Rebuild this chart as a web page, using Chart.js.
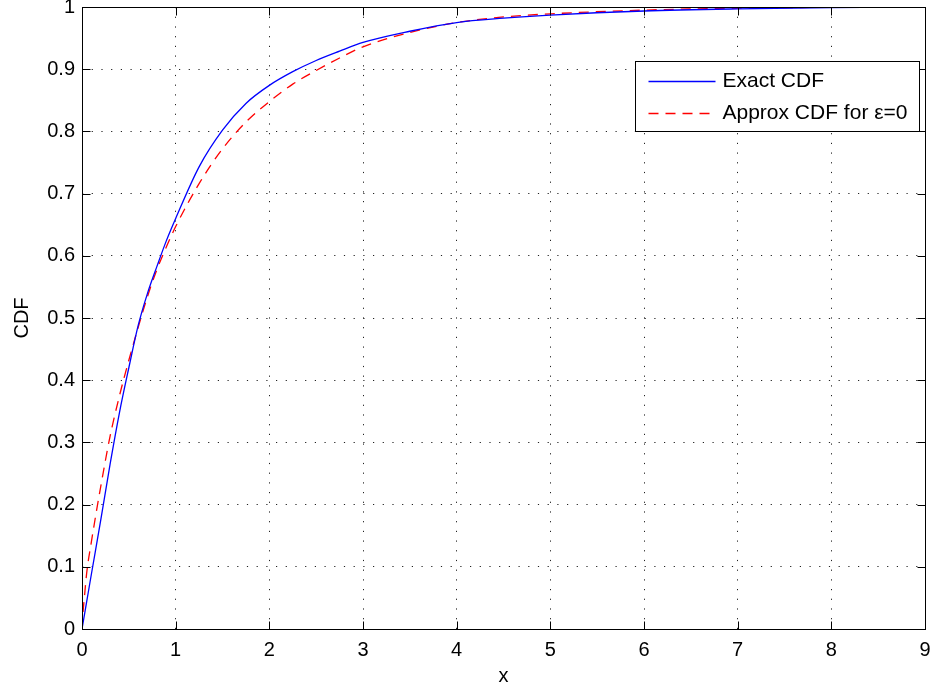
<!DOCTYPE html>
<html>
<head>
<meta charset="utf-8">
<script src="https://cdn.jsdelivr.net/npm/chart.js@4"></script>
<style>
  html, body { margin: 0; padding: 0; background: #fff; }
</style>
</head>
<body>
<canvas id="cdfChart" width="934" height="690"></canvas>
<script>
// exact CDF
var exactX   = [0, 0.05, 0.1, 0.2, 0.3, 0.4, 0.5, 0.6, 0.7, 0.8, 0.9, 1.0, 1.25, 1.5, 1.75, 2.0, 2.25, 2.5, 2.75, 3.0, 3.5, 4.0, 4.5, 5.0, 6.0, 7.0, 8.0, 9.0];
var exactCdf = [0, 0.044, 0.088, 0.175, 0.265, 0.348, 0.42, 0.488, 0.54, 0.583, 0.624, 0.66, 0.743, 0.802, 0.845, 0.874, 0.896, 0.914, 0.929, 0.943, 0.961, 0.975, 0.982, 0.987, 0.9936, 0.997, 0.999, 1.0];

// approximation with epsilon = 0
var approxX   = [0, 0.01, 0.025, 0.05, 0.1, 0.2, 0.3, 0.4, 0.5, 0.6, 0.7, 0.8, 0.9, 1.0, 1.25, 1.5, 1.75, 2.0, 2.25, 2.5, 2.75, 3.0, 3.5, 4.0, 4.5, 5.0, 6.0, 7.0, 8.0, 9.0];
var approxCdf = [0, 0.025, 0.05, 0.09, 0.14, 0.229, 0.31, 0.375, 0.432, 0.485, 0.535, 0.578, 0.614, 0.647, 0.716, 0.772, 0.815, 0.848, 0.876, 0.898, 0.918, 0.936, 0.959, 0.975, 0.984, 0.989, 0.995, 0.998, 0.9995, 1.0];

var xTickLabels = ['0', '1', '2', '3', '4', '5', '6', '7', '8', '9'];
var yTickLabels = ['0', '0.1', '0.2', '0.3', '0.4', '0.5', '0.6', '0.7', '0.8', '0.9', '1'];

var FONT = '"Liberation Sans", Arial, Helvetica, sans-serif';

function toPoints(xs, ys) {
    return xs.map(function(x, i) { return { x: x, y: ys[i] }; });
}

// box around the axes, inward tick marks and the boxed legend
var axesBox = {
    id: 'axesBox',
    afterDatasetsDraw: function(chart) {
        var ctx = chart.ctx, a = chart.chartArea;
        var xs = chart.scales.x, ys = chart.scales.y;
        var L = Math.round(a.left) + 0.5, R = Math.round(a.right) + 0.5;
        var T = Math.round(a.top) + 0.5, B = Math.round(a.bottom) + 0.5;
        var tick = 8;
        ctx.save();
        ctx.strokeStyle = '#000';
        ctx.lineWidth = 1;
        ctx.setLineDash([]);
        ctx.beginPath();
        xs.ticks.forEach(function(t) {
            var px = Math.round(xs.getPixelForValue(t.value)) + 0.5;
            ctx.moveTo(px, B); ctx.lineTo(px, B - tick);
            ctx.moveTo(px, T); ctx.lineTo(px, T + tick);
        });
        ys.ticks.forEach(function(t) {
            var py = Math.round(ys.getPixelForValue(t.value)) + 0.5;
            ctx.moveTo(L, py); ctx.lineTo(L + tick, py);
            ctx.moveTo(R, py); ctx.lineTo(R - tick, py);
        });
        ctx.stroke();
        ctx.strokeRect(L, T, R - L, B - T);

        // legend
        var w = 284, h = 70;
        var bx = R - 6 - w, by = T + 54;
        ctx.fillStyle = '#fff';
        ctx.fillRect(bx, by, w, h);
        ctx.strokeRect(bx, by, w, h);
        ctx.font = '21px ' + FONT;
        ctx.textBaseline = 'middle';
        ctx.textAlign = 'left';
        chart.data.datasets.forEach(function(ds, i) {
            var ry = Math.round(by + 19 + i * 32) + 0.5;
            ctx.strokeStyle = ds.borderColor;
            ctx.lineWidth = ds.borderWidth;
            ctx.setLineDash(ds.borderDash || []);
            ctx.beginPath();
            ctx.moveTo(bx + 13, ry);
            ctx.lineTo(bx + 80, ry);
            ctx.stroke();
            ctx.fillStyle = '#000';
            ctx.fillText(ds.label, bx + 87, ry);
        });
        ctx.restore();
    }
};

var ctx = document.getElementById('cdfChart').getContext('2d');
var cdfChart = new Chart(ctx, {
    type: 'line',
    data: {
        datasets: [{
            label: 'Exact CDF',
            data: toPoints(exactX, exactCdf),
            borderColor: '#0000ff',
            borderWidth: 1.3,
            pointRadius: 0,
            fill: false,
            cubicInterpolationMode: 'monotone'
        }, {
            label: 'Approx CDF for \u03b5=0',
            data: toPoints(approxX, approxCdf),
            borderColor: '#ff0000',
            borderWidth: 1.3,
            borderDash: [10, 7],
            pointRadius: 0,
            fill: false,
            cubicInterpolationMode: 'monotone'
        }]
    },
    options: {
        responsive: false,
        animation: false,
        devicePixelRatio: 1,
        layout: { padding: { top: 7, right: 9, left: 0, bottom: 0 } },
        plugins: {
            legend: { display: false },
            tooltip: { enabled: false }
        },
        scales: {
            x: {
                type: 'linear',
                min: 0,
                max: 9,
                ticks: {
                    stepSize: 1,
                    padding: 9,
                    color: '#000',
                    font: { family: FONT, size: 20 },
                    callback: function(v, i) { return xTickLabels[i]; }
                },
                grid: { color: '#222', lineWidth: 1, drawTicks: false },
                border: { display: false, dash: [1.2, 8.5] },
                title: {
                    display: true,
                    text: 'x',
                    color: '#000',
                    font: { family: FONT, size: 20 },
                    padding: { top: 0, bottom: 1.5 }
                },
                afterFit: function(s) {
                    s.height = 61;
                    s.paddingLeft = 0;
                    s.paddingRight = 0;
                }
            },
            y: {
                type: 'linear',
                min: 0,
                max: 1,
                ticks: {
                    stepSize: 0.1,
                    padding: 7,
                    color: '#000',
                    font: { family: FONT, size: 20 },
                    callback: function(v, i) { return yTickLabels[i]; }
                },
                grid: { color: '#222', lineWidth: 1, drawTicks: false },
                border: { display: false, dash: [1.2, 8.5] },
                title: {
                    display: true,
                    text: 'CDF',
                    color: '#000',
                    font: { family: FONT, size: 20 },
                    padding: { top: 10, bottom: 0 }
                },
                afterFit: function(s) {
                    s.width = 82;
                    s.paddingTop = 0;
                    s.paddingBottom = 0;
                }
            }
        }
    },
    plugins: [axesBox]
});
</script>
</body>
</html>
